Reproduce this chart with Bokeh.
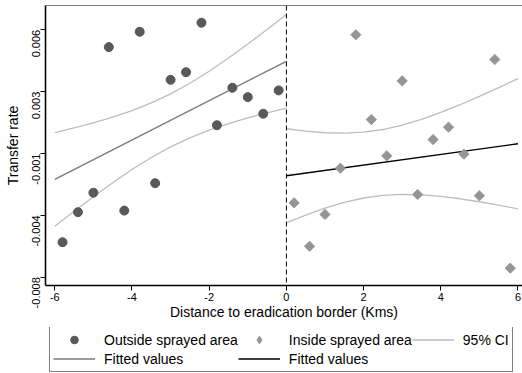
import math
from bokeh.plotting import figure
from bokeh.layouts import column
from bokeh.models import (Range1d, FixedTicker, Span, Legend, LegendItem)
from bokeh.embed import file_html
from bokeh.resources import INLINE

# ---------------- data ----------------
outside_x = [-5.8, -5.4, -5.0, -4.6, -4.2, -3.8, -3.4, -3.0, -2.6, -2.2, -1.8, -1.4, -1.0, -0.6, -0.2]
outside_y = [-0.00602, -0.00432, -0.00322, 0.00502, -0.00423, 0.00589, -0.00268, 0.00317,
             0.00360, 0.00640, 0.00060, 0.00272, 0.00219, 0.00125, 0.00257]

inside_x = [0.2, 0.6, 1.0, 1.4, 1.8, 2.2, 2.6, 3.0, 3.4, 3.8, 4.2, 4.6, 5.0, 5.4, 5.8]
inside_y = [-0.00379, -0.00625, -0.00445, -0.00183, 0.00572, 0.00092, -0.00113, 0.00311,
            -0.00332, -0.00021, 0.00049, -0.00104, -0.00339, 0.00432, -0.00749]

# fitted values (linear fit on each side)
fit_out_x = [-6.0, 0.0]
fit_out_y = [-0.00247, 0.00422]
fit_in_x = [0.0, 6.0]
fit_in_y = [-0.00226, -0.00045]

# 95% CI bands
ci_out_x = [-6.0, -5.5, -5.0, -4.5, -4.0, -3.5, -3.0, -2.5, -2.0, -1.5, -1.0, -0.5, 0.0]
ci_out_hi = [0.000180, 0.000446, 0.000735, 0.001058, 0.001427, 0.001862, 0.002375,
             0.002977, 0.003657, 0.004403, 0.005195, 0.006021, 0.006870]
ci_out_lo = [-0.005120, -0.004271, -0.003445, -0.002653, -0.001907, -0.001227, -0.000625,
             -0.000112, 0.000323, 0.000693, 0.001015, 0.001305, 0.001570]

ci_in_x = [0.0, 0.5, 1.0, 1.5, 2.0, 2.5, 3.0, 3.5, 4.0, 4.5, 5.0, 5.5, 6.0]
ci_in_hi = [0.000401, 0.000265, 0.000175, 0.000149, 0.000206, 0.000357, 0.000602,
            0.000930, 0.001322, 0.001760, 0.002231, 0.002726, 0.003238]
ci_in_lo = [-0.004921, -0.004483, -0.004091, -0.003763, -0.003518, -0.003367, -0.003310,
            -0.003336, -0.003426, -0.003562, -0.003731, -0.003924, -0.004134]

border_x = 0.0

x_ticks = [-6, -4, -2, 0, 2, 4, 6]
x_tick_labels = ["-6", "-4", "-2", "0", "2", "4", "6"]
y_ticks = [0.006, 0.0025, -0.001, -0.0045, -0.008]
y_tick_labels = ["0.006", "0.003", "-0.001", "-0.004", "-0.008"]

x_title = "Distance to eradication border (Kms)"
y_title = "Transfer rate"

# ---------------- styles ----------------
FONT = "Liberation Sans"
C_OUT = "#595959"
C_IN = "#959595"
C_CI = "#bdbdbd"
C_FIT_OUT = "#7a7a7a"
C_FIT_IN = "#000000"
X_MIN, X_MAX = -6.241, 6.117
Y_MIN, Y_MAX = -0.00847, 0.007375

p = figure(width=522, height=327, output_backend="svg", toolbar_location=None,
           x_range=Range1d(X_MIN, X_MAX), y_range=Range1d(Y_MIN, Y_MAX),
           min_border_left=45, min_border_right=0, min_border_top=5, min_border_bottom=42)
p.outline_line_color = None
p.xgrid.visible = False
p.ygrid.visible = False
p.background_fill_color = "white"
p.border_fill_color = "white"

# CI curves
p.line(ci_out_x, ci_out_hi, line_color=C_CI, line_width=1.3)
p.line(ci_out_x, ci_out_lo, line_color=C_CI, line_width=1.3)
p.line(ci_in_x, ci_in_hi, line_color=C_CI, line_width=1.3)
p.line(ci_in_x, ci_in_lo, line_color=C_CI, line_width=1.3)

# fitted lines
p.line(fit_out_x, fit_out_y, line_color=C_FIT_OUT, line_width=1.4)
p.line(fit_in_x, fit_in_y, line_color=C_FIT_IN, line_width=1.4)

# points
p.scatter(outside_x, outside_y, marker="circle", size=9, fill_color=C_OUT, line_color=C_OUT)
p.scatter(inside_x, inside_y, marker="square", size=7.2, angle=math.pi / 4,
          fill_color=C_IN, line_color=C_IN)

# border line and top frame line
p.add_layout(Span(location=border_x, dimension="height", line_color="black",
                  line_width=1, line_dash="5 3"))
p.add_layout(Span(location=Y_MAX, dimension="width", line_color="black", line_width=1))

# axes
xa = p.xaxis[0]
xa.ticker = FixedTicker(ticks=x_ticks)
xa.major_label_overrides = {t: l for t, l in zip(x_ticks, x_tick_labels)}
xa.axis_label = x_title
ya = p.yaxis[0]
ya.ticker = FixedTicker(ticks=y_ticks)
ya.major_label_overrides = {t: l for t, l in zip(y_ticks, y_tick_labels)}
ya.axis_label = y_title
ya.major_label_orientation = math.pi / 2

for ax in (xa, ya):
    ax.axis_line_color = "black"
    ax.axis_line_width = 1.6
    ax.major_tick_line_color = "black"
    ax.major_tick_line_width = 1
    ax.major_tick_out = 5
    ax.major_tick_in = 0
    ax.minor_tick_line_color = None
    ax.major_label_text_font = FONT
    ax.major_label_text_font_size = "11px"
    ax.major_label_text_color = "black"
    ax.axis_label_text_font = FONT
    ax.axis_label_text_font_size = "14px"
    ax.axis_label_text_font_style = "normal"
    ax.axis_label_text_color = "black"
xa.major_label_standoff = 2
xa.axis_label_standoff = 0
ya.major_label_standoff = 4
ya.axis_label_standoff = 5

# ---------------- legend strip below the plot ----------------
# the strip re-draws the same series, but its ranges keep them out of view:
# they only serve as legend keys
lf = figure(width=522, height=45, output_backend="svg", toolbar_location=None,
            x_axis_type=None, y_axis_type=None, min_border=0,
            x_range=Range1d(0, 1), y_range=Range1d(10, 11))
lf.outline_line_color = None
lf.grid.visible = False
lf.background_fill_color = "white"
lf.border_fill_color = "white"

k_out = lf.scatter(outside_x, outside_y, marker="circle", fill_color=C_OUT, line_color=C_OUT)
k_in = lf.scatter(inside_x, inside_y, marker="diamond", fill_color=C_IN, line_color=C_IN)
k_ci = lf.line(ci_out_x, ci_out_hi, line_color=C_CI, line_width=1.3)
k_fit_out = lf.line(fit_out_x, fit_out_y, line_color=C_FIT_OUT, line_width=1.4)
k_fit_in = lf.line(fit_in_x, fit_in_y, line_color=C_FIT_IN, line_width=1.4)

# column-major fill: col1 = outside/fitted, col2 = inside/fitted, col3 = CI
legend = Legend(items=[
    LegendItem(label="Outside sprayed area", renderers=[k_out]),
    LegendItem(label="Fitted values", renderers=[k_fit_out]),
    LegendItem(label="Inside sprayed area", renderers=[k_in]),
    LegendItem(label="Fitted values", renderers=[k_fit_in]),
    LegendItem(label="95% CI", renderers=[k_ci]),
], ncols=3, location=(4, 0))
legend.label_text_font = FONT
legend.label_text_font_size = "14px"
legend.label_text_color = "black"
legend.glyph_width = 42
legend.glyph_height = 19
legend.label_height = 19
legend.label_standoff = 9
legend.spacing = 0
legend.padding = 3
legend.margin = 0
legend.border_line_color = "black"
legend.border_line_width = 1
legend.background_fill_color = "white"
legend.background_fill_alpha = 1
lf.add_layout(legend)

layout = column(p, lf, spacing=0)

open("out.html", "w").write(file_html(layout, INLINE))
